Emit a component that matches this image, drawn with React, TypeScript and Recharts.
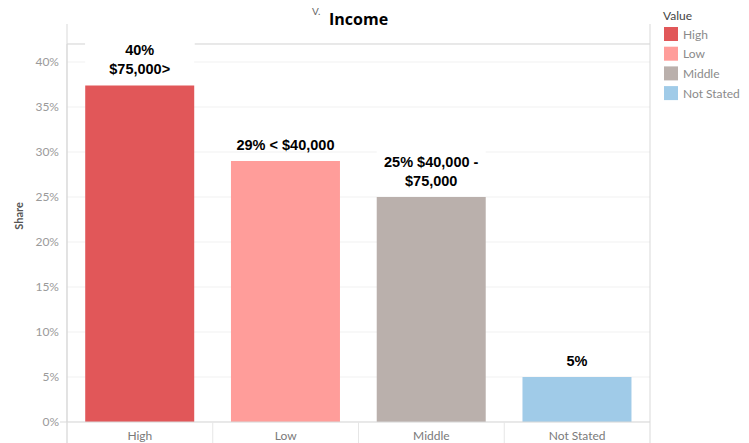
import React from "react";
import { BarChart, Bar, XAxis, YAxis, CartesianGrid, Cell, LabelList } from "recharts";

const categories = ["High", "Low", "Middle", "Not Stated"];
const shares = [0.374, 0.29, 0.25, 0.05];
const barLabels = [["40%", "$75,000>"], ["29% < $40,000"], ["25% $40,000 -", "$75,000"], ["5%"]];
const colors = ["#E15759", "#FF9D9A", "#BAB0AC", "#A0CBE8"];
const yTicks = [0, 0.05, 0.1, 0.15, 0.2, 0.25, 0.3, 0.35, 0.4];

const data = categories.map((c, i) => ({ name: c, share: shares[i], idx: i }));

const W = 749;
const H = 443;
const LEFT = 67;
const RIGHT = 650;
const TOP = 44;
const BASE = 422;

const BarLabel = (props: any) => {
  const { x, y, width, index } = props;
  const lines = barLabels[index] || [];
  const cx = x + width / 2;
  const lh = 19.5;
  const n = lines.length;
  return (
    <g>
      {n > 1 && (
        <rect x={x} y={y - 15 - n * lh + 4} width={width} height={n * lh} fill="#fff" />
      )}
      {lines.map((l: string, k: number) => (
        <text
          key={k}
          x={cx}
          y={y - 16 - (n - 1 - k) * lh}
          textAnchor="middle"
          dominantBaseline="central"
          fontFamily="'Liberation Sans', Arial, sans-serif"
          fontWeight="bold"
          fontSize={14.5}
          fill="#000"
        >
          {l}
        </text>
      ))}
    </g>
  );
};

const XTick = (props: any) => {
  const { x, payload } = props;
  const band = (RIGHT - LEFT) / categories.length;
  return (
    <g>
      <line x1={x - band / 2} x2={x - band / 2} y1={BASE} y2={H} stroke="#e6e6e6" />
      <text x={x} y={435} textAnchor="middle" dominantBaseline="central" fontFamily="Lato, sans-serif" fontSize={12} fill="#7a7a7a">
        {payload.value}
      </text>
    </g>
  );
};

export default function App() {
  return (
    <div style={{ position: "absolute", left: 0, top: 0, width: W, height: H, background: "#fff", fontFamily: "Lato, sans-serif" }}>
      <BarChart
        width={W}
        height={H}
        data={data}
        margin={{ top: TOP, right: W - RIGHT, bottom: 0, left: 0 }}
        barCategoryGap="12.5%"
      >
        <CartesianGrid horizontal vertical={false} stroke="#f1f1f1" />
        <XAxis
          dataKey="name"
          height={H - BASE}
          axisLine={{ stroke: "#d9d9d9" }}
          tickLine={false}
          tick={<XTick />}
          interval={0}
        />
        <YAxis
          width={LEFT}
          domain={[0, 0.42]}
          ticks={yTicks}
          allowDataOverflow
          axisLine={{ stroke: "#d9d9d9" }}
          tickLine={false}
          tick={{ fill: "#9a9a9a", fontSize: 12, fontFamily: "Lato, sans-serif" }}
          tickFormatter={(v: number) => `${Math.round(v * 100)}%`}
        />
        <Bar dataKey="share" isAnimationActive={false}>
          {data.map((d, i) => (
            <Cell key={d.name} fill={colors[i]} />
          ))}
          <LabelList dataKey="share" content={<BarLabel />} />
        </Bar>
      </BarChart>
      <svg width={W} height={H} style={{ position: "absolute", left: 0, top: 0, pointerEvents: "none" }}>
        <line x1={LEFT} x2={LEFT} y1={24} y2={H} stroke="#d9d9d9" />
        <line x1={RIGHT} x2={RIGHT} y1={24} y2={H} stroke="#d9d9d9" />
        <line x1={LEFT} x2={85} y1={TOP} y2={TOP} stroke="#d9d9d9" />
        <line x1={195} x2={RIGHT} y1={TOP} y2={TOP} stroke="#d9d9d9" />
        <line x1={60} x2={LEFT} y1={BASE} y2={BASE} stroke="#d9d9d9" />
        <text x={312} y={15} fontSize={10} fill="#666" fontFamily="Lato, sans-serif">V.</text>
        <text x={329} y={25} fontSize={16} fontWeight="bold" fill="#000" fontFamily="'Open Sans', sans-serif">Income</text>
        <text x={18} y={216} fontSize={11} fontWeight="bold" fill="#555" fontFamily="Lato, sans-serif" textAnchor="middle" dominantBaseline="central" transform="rotate(-90 18 216)">Share</text>
        <text x={663} y={20} fontSize={12} fill="#444" fontFamily="Lato, sans-serif">Value</text>
        {categories.map((c, i) => (
          <g key={c}>
            <rect x={664} y={27 + i * 19.7} width={14} height={14} fill={colors[i]} />
            <text x={683} y={34 + i * 19.7} fontSize={12} fill="#8a8a8a" fontFamily="Lato, sans-serif" dominantBaseline="central">{c}</text>
          </g>
        ))}
      </svg>
    </div>
  );
}
